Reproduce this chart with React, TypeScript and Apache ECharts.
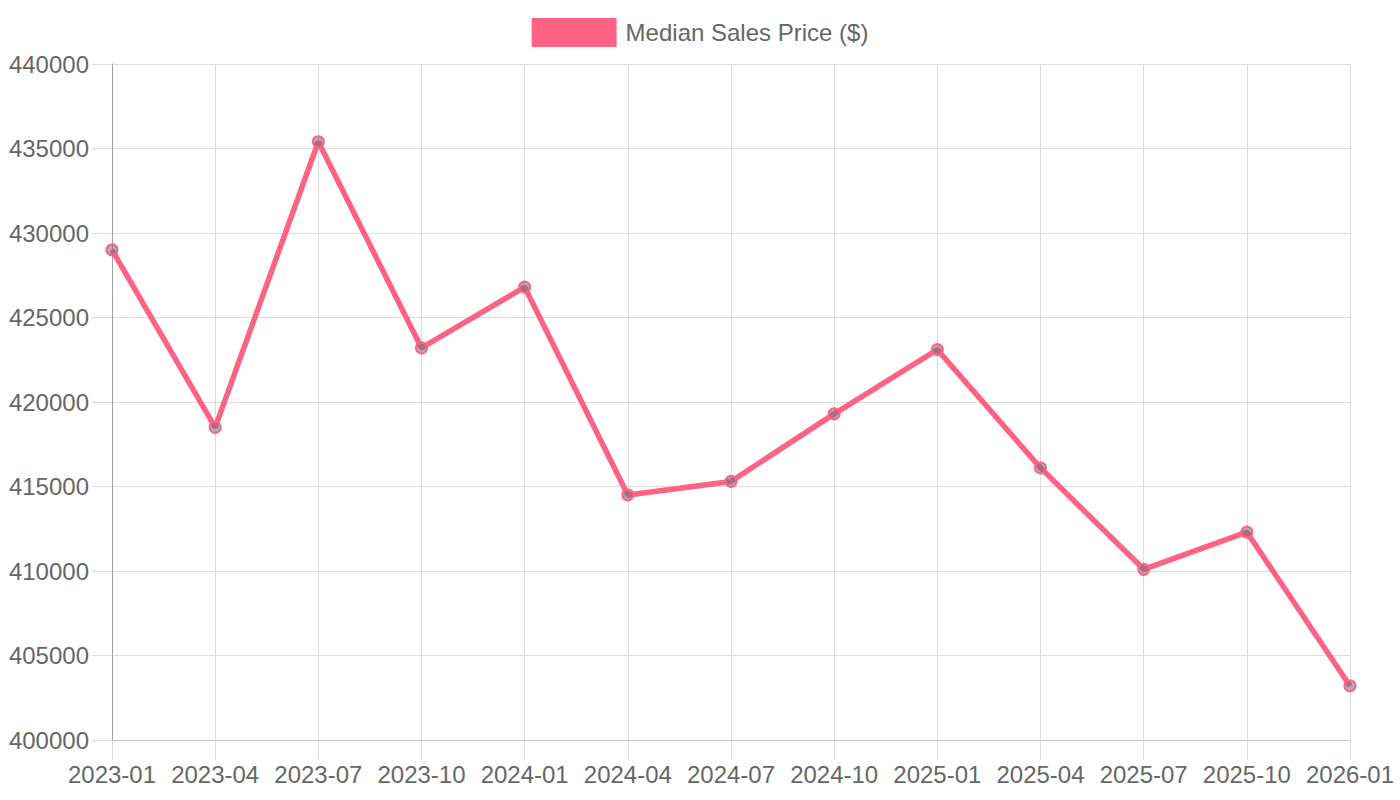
import React, { useEffect, useRef } from "react";
import * as echarts from "echarts";

const months = [
  "2023-01", "2023-04", "2023-07", "2023-10",
  "2024-01", "2024-04", "2024-07", "2024-10",
  "2025-01", "2025-04", "2025-07", "2025-10",
  "2026-01",
];

const medianPrice = [
  429000, 418500, 435400, 423200,
  426800, 414500, 415300, 419300,
  423100, 416100, 410100, 412300,
  403200,
];

const seriesName = "Median Sales Price ($)";

const FONT = "'Liberation Sans', Arial, Helvetica, sans-serif";
const PINK = "#ff6384";
const GRID = "#dcdcdc";
const TEXT = "#666666";

export default function App() {
  const ref = useRef<HTMLDivElement>(null);

  useEffect(() => {
    if (!ref.current) return;
    const chart = echarts.init(ref.current, undefined, { renderer: "svg" });
    chart.setOption({
      animation: false,
      backgroundColor: "#ffffff",
      textStyle: { fontFamily: FONT },
      legend: {
        top: 13,
        left: "center",
        icon: "rect",
        itemWidth: 85,
        itemHeight: 29,
        data: [{ name: seriesName, icon: "rect", itemStyle: { color: PINK, borderWidth: 0 } }],
        textStyle: {
          fontSize: 24,
          color: TEXT,
          fontFamily: FONT,
          padding: [0, 0, 0, 4],
        },
      },
      grid: { left: 112, right: 50, top: 64, bottom: 60, containLabel: false },
      xAxis: {
        type: "category",
        data: months,
        boundaryGap: false,
        axisLine: { show: true, lineStyle: { color: "#c4c4c4", width: 1 } },
        axisTick: { show: true, length: 20, interval: 0, lineStyle: { color: GRID } },
        axisLabel: {
          fontSize: 24,
          color: TEXT,
          margin: 22,
          interval: 0,
          hideOverlap: false,
          fontFamily: FONT,
        },
        splitLine: { show: true, interval: 0, lineStyle: { color: GRID, width: 1 } },
      },
      yAxis: {
        type: "value",
        min: 400000,
        max: 440000,
        interval: 5000,
        axisLine: { show: true, lineStyle: { color: "#a0a0a0", width: 1 } },
        axisTick: { show: true, length: 20, lineStyle: { color: GRID } },
        axisLabel: {
          fontSize: 24,
          color: TEXT,
          margin: 23,
          fontFamily: FONT,
          formatter: (v: number) => String(v),
        },
        splitLine: { show: true, lineStyle: { color: GRID, width: 1 } },
      },
      series: [
        {
          name: seriesName,
          type: "line",
          data: medianPrice,
          symbol: "circle",
          symbolSize: 11,
          showSymbol: true,
          lineStyle: { color: PINK, width: 5.5 },
          itemStyle: {
            color: "rgba(110,110,130,0.55)",
            borderColor: PINK,
            borderWidth: 2,
          },
          emphasis: { disabled: true },
          z: 3,
        },
      ],
    });
    return () => chart.dispose();
  }, []);

  return (
    <div
      ref={ref}
      style={{ position: "fixed", left: 0, top: 0, width: 1400, height: 800 }}
    />
  );
}
